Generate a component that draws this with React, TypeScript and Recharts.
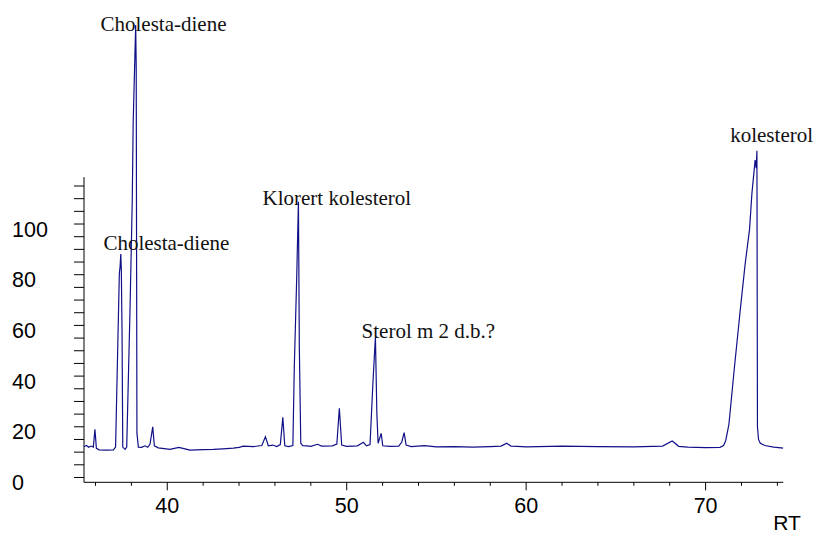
import React from 'react';
import { LineChart, Line, XAxis, YAxis, ReferenceLine, ReferenceDot } from 'recharts';

// retention time (min) and detector response
const rt = [
  35.36, 35.5, 35.62, 35.75, 35.88, 35.97, 36.05, 36.2, 36.6, 37.0,
  37.12, 37.33, 37.37, 37.41, 37.44, 37.48, 37.52, 37.65, 37.74, 37.92,
  38.05, 38.1, 38.24, 38.27, 38.31, 38.39, 38.57, 38.76, 38.91, 39.04,
  39.19, 39.28, 39.5, 40.15, 40.65, 41.27, 42.0, 42.57, 43.1, 43.68,
  44.0, 44.24, 44.8, 45.27, 45.47, 45.63, 45.88, 46.1, 46.3, 46.44,
  46.55, 46.75, 47.0, 47.08, 47.21, 47.31, 47.36, 47.44, 47.55, 47.77,
  48.0, 48.37, 48.6, 49.2, 49.45, 49.59, 49.72, 50.0, 50.6, 50.93,
  51.1, 51.3, 51.45, 51.6, 51.68, 51.75, 51.92, 52.01, 52.4, 52.9,
  53.07, 53.2, 53.31, 53.6, 54.33, 55.0, 56.0, 57.0, 58.0, 58.6,
  58.92, 59.15, 59.5, 60.0, 62.0, 64.0, 66.0, 67.6, 68.14, 68.5,
  69.0, 70.0, 70.8, 71.0, 71.12, 71.3, 71.6, 71.93, 72.2, 72.45,
  72.58, 72.76, 72.82, 72.86, 72.89, 72.95, 73.05, 73.3, 73.8, 74.33,
];
const intensity = [
  12.2, 12.6, 11.9, 12.4, 12.0, 19.0, 11.5, 10.9, 10.8, 10.9,
  12.0, 80.7, 83, 88.2, 82, 57, 12.0, 11.1, 12.0, 64.9,
  109.5, 139.8, 178.5, 162, 17.5, 12.0, 11.9, 12.5, 11.9, 13.2,
  20.0, 12.5, 11.7, 11.1, 11.9, 10.8, 11.0, 11.1, 11.3, 11.6,
  11.9, 12.4, 12.2, 12.6, 16.1, 12.5, 12.8, 12.2, 13.0, 23.7,
  12.5, 12.2, 12.6, 43.7, 77.9, 108.8, 51.6, 13.5, 12.6, 12.5,
  12.3, 13.1, 12.4, 12.5, 13.2, 27.3, 12.8, 12.3, 12.5, 13.9,
  12.5, 13.0, 35.8, 55.5, 25.3, 13.5, 17.4, 12.5, 12.3, 12.4,
  14.0, 17.7, 12.8, 12.2, 12.6, 12.1, 12.2, 12.0, 12.2, 12.4,
  13.5, 12.4, 12.3, 12.1, 12.4, 12.2, 12.1, 12.4, 14.4, 12.3,
  12.0, 11.8, 11.9, 12.6, 14.5, 21.0, 43, 66, 84, 98,
  112, 125.2, 122, 128.9, 20, 15, 13.5, 12.6, 12.0, 11.6,
];

const xTicks = [36, 38, 40, 42, 44, 46, 48, 50, 52, 54, 56, 58, 60, 62, 64, 66, 68, 70, 72, 74];
const xLabelled = [40, 50, 60, 70];
const yTicks = [0, 5, 10, 15, 20, 25, 30, 35, 40, 45, 50, 55, 60, 65, 70, 75, 80, 85, 90, 95, 100, 105, 110, 115];
const yLabelled = [0, 20, 40, 60, 80, 100];

// peak annotations: label text, anchor RT and response
const peakNames = ['Cholesta-diene', 'Cholesta-diene', 'Klorert kolesterol', 'Sterol m 2 d.b.?', 'kolesterol'];
const peakRt = [39.79, 39.95, 49.45, 54.55, 73.68];
const peakLabelY = [176.1, 89.7, 107.5, 55.0, 132.3];

const X_DOMAIN: [number, number] = [35.36, 74.33];
const Y_DOMAIN: [number, number] = [-1.9, 180.1];
const Y_AXIS_TOP = 118.5;

const sans = '"Liberation Sans", Arial, sans-serif';
const serif = '"Liberation Serif", "Times New Roman", serif';

const chartData = rt.map((t, i) => ({ rt: t, value: intensity[i] }));

const XTick = (props: any) => {
  const { x, y, payload } = props;
  const major = xLabelled.includes(payload.value);
  return (
    <g>
      <line x1={x} x2={x} y1={y} y2={y + (major ? 8 : 3.5)} stroke="#000" strokeWidth={1} />
      {major && (
        <text x={x} y={y + 24} textAnchor="middle" dominantBaseline="central" fontFamily={sans} fontSize={21.5} fill="#000">
          {payload.value}
        </text>
      )}
    </g>
  );
};

const YTick = (props: any) => {
  const { x, y, payload } = props;
  if (!yLabelled.includes(payload.value)) return <g />;
  return (
    <text x={x - 60} y={y + 5.5} textAnchor="start" dominantBaseline="central" fontFamily={sans} fontSize={21.5} fill="#000">
      {payload.value}
    </text>
  );
};

const RtLabel = (props: any) => {
  const vb = props.viewBox || {};
  return (
    <text x={vb.x + vb.width - 10} y={vb.y + vb.height - 6} fontFamily={sans} fontSize={21} fill="#000">
      RT
    </text>
  );
};

export default function App() {
  return (
    <div style={{ position: 'absolute', left: 0, top: 0, background: '#fff' }}>
      <LineChart width={815} height={536} data={chartData} margin={{ top: 21, right: 31.7, left: 0, bottom: 0 }}>
        <XAxis
          dataKey="rt"
          type="number"
          domain={X_DOMAIN}
          allowDataOverflow
          ticks={xTicks}
          interval={0}
          height={53.7}
          tickSize={0}
          tickMargin={0}
          tickLine={false}
          axisLine={{ stroke: '#000', strokeWidth: 1 }}
          tick={<XTick />}
          label={<RtLabel />}
        />
        <YAxis
          type="number"
          domain={Y_DOMAIN}
          allowDataOverflow
          ticks={yTicks}
          interval={0}
          width={84}
          tickSize={10}
          tickMargin={2}
          axisLine={false}
          tickLine={{ stroke: '#000', strokeWidth: 1 }}
          tick={<YTick />}
        />
        <ReferenceLine
          segment={[{ x: X_DOMAIN[0], y: Y_DOMAIN[0] }, { x: X_DOMAIN[0], y: Y_AXIS_TOP }]}
          stroke="#000"
          strokeWidth={1}
          ifOverflow="visible"
        />
        <Line
          type="linear"
          dataKey="value"
          stroke="#101088"
          strokeWidth={1.2}
          dot={false}
          isAnimationActive={false}
        />
        {peakNames.map((name, i) => (
          <ReferenceDot
            key={i}
            x={peakRt[i]}
            y={peakLabelY[i]}
            r={0}
            ifOverflow="visible"
            shape={(p: any) => (
              <text x={p.cx} y={p.cy} textAnchor="middle" fontFamily={serif} fontSize={21} fill="#111">
                {name}
              </text>
            )}
          />
        ))}
      </LineChart>
    </div>
  );
}
